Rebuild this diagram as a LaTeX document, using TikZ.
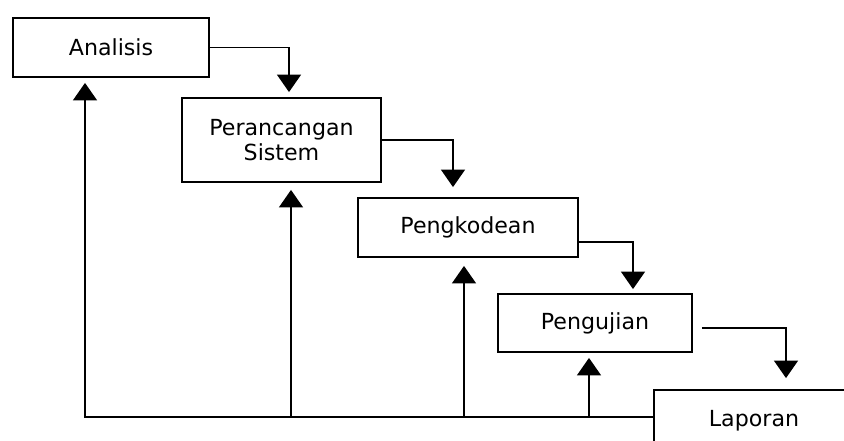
\documentclass[tikz,border=0pt]{standalone}
\usepackage{fontspec}
\setmainfont{DejaVu Sans}
\usetikzlibrary{arrows.meta,calc}

\begin{document}
\begin{tikzpicture}[x=0.2mm,y=-0.2mm]
\tikzstyle{every node}+=[inner sep=0pt]
\tikzset{
  box/.style={draw,black,line width=1.05pt,align=center,
    font=\fontsize{12.6}{14.4}\selectfont},
  flow/.style={black,line width=0.9pt,-{Triangle[width=4.8mm,length=3.5mm]}}
}
\useasboundingbox (0,0) rectangle (844,441);
\clip (0,0) rectangle (844,441);
% the five stages
\node [box,minimum width=39.2mm,minimum height=11.8mm] (ana) at (111,47.5) {Analisis};
\node [box,minimum width=39.8mm,minimum height=16.8mm] (per) at (281.5,140) {Perancangan\\Sistem};
\node [box,minimum width=44mm,minimum height=11.8mm] (kod) at (468,227.5) {Pengkodean};
\node [box,minimum width=38.8mm,minimum height=11.6mm] (uji) at (595,323) {Pengujian};
\node [box,minimum width=40mm,minimum height=12.4mm] (lap) at (754,421) {Laporan};
% going down
\draw [flow] (ana.east) -| ($(per.north)+(7.5,-5)$);
\draw [flow] (per.east) -| ($(kod.north)+(-15,-10)$);
\draw [flow] ($(kod.east)+(0,14.5)$) -| ($(uji.north)+(38,-4)$);
\draw [flow] ($(uji.east)+(9,5)$) -| ($(lap.north)+(32,-11)$);
% going back
\coordinate (back) at ($(lap.west)+(0,-4)$);
\coordinate (anain) at ($(ana.south)+(-26,5)$);
\coordinate (perin) at ($(per.south)+(9.5,7)$);
\coordinate (kodin) at ($(kod.south)+(-4,8)$);
\coordinate (ujiin) at ($(uji.south)+(-6,5)$);
\draw [flow] (back) -| (anain);
\draw [flow] (perin |- back) -- (perin);
\draw [flow] (kodin |- back) -- (kodin);
\draw [flow] (ujiin |- back) -- (ujiin);
\end{tikzpicture}
\end{document}
